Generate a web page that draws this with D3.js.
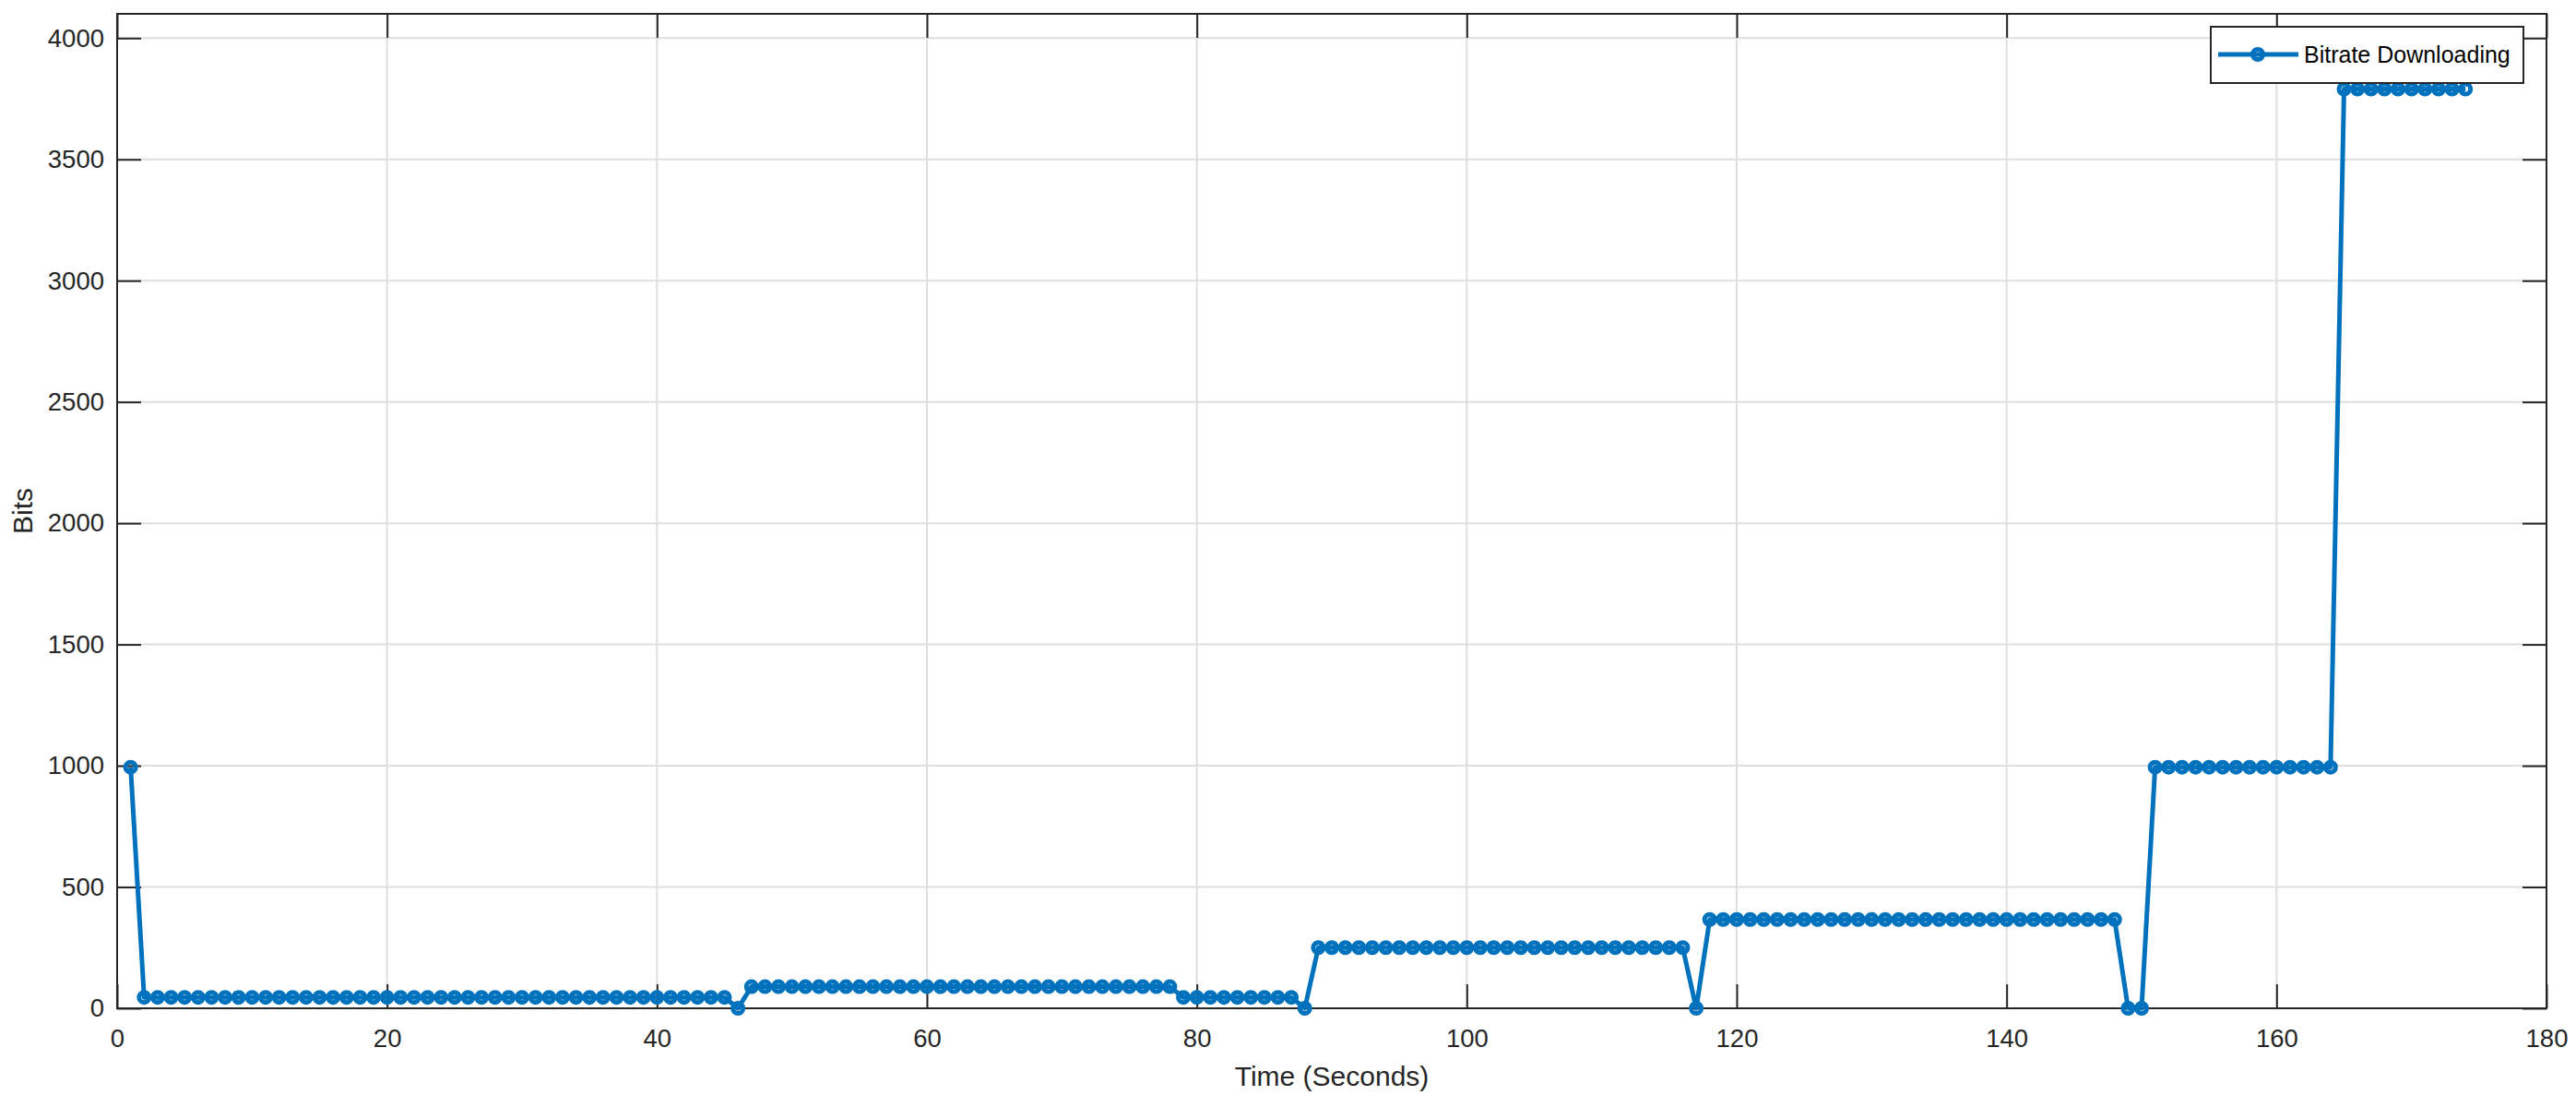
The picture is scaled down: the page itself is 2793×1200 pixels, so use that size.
<!DOCTYPE html>
<html>
<head>
<meta charset="utf-8">
<script src="https://cdn.jsdelivr.net/npm/d3@7"></script>
<style>
  html, body { margin: 0; padding: 0; background: #ffffff; }
  svg { display: block; }
</style>
</head>
<body>
<svg id="chart" width="2793" height="1200"></svg>
<script>
// ---- data ----
const seriesName = "Bitrate Downloading";
const xLabel = "Time (Seconds)";
const yLabel = "Bits";

const timeSeconds = [
  1, 2, 3, 4, 5, 6, 7, 8, 9, 10,
  11, 12, 13, 14, 15, 16, 17, 18, 19, 20,
  21, 22, 23, 24, 25, 26, 27, 28, 29, 30,
  31, 32, 33, 34, 35, 36, 37, 38, 39, 40,
  41, 42, 43, 44, 45, 46, 47, 48, 49, 50,
  51, 52, 53, 54, 55, 56, 57, 58, 59, 60,
  61, 62, 63, 64, 65, 66, 67, 68, 69, 70,
  71, 72, 73, 74, 75, 76, 77, 78, 79, 80,
  81, 82, 83, 84, 85, 86, 87, 88, 89, 90,
  91, 92, 93, 94, 95, 96, 97, 98, 99, 100,
  101, 102, 103, 104, 105, 106, 107, 108, 109, 110,
  111, 112, 113, 114, 115, 116, 117, 118, 119, 120,
  121, 122, 123, 124, 125, 126, 127, 128, 129, 130,
  131, 132, 133, 134, 135, 136, 137, 138, 139, 140,
  141, 142, 143, 144, 145, 146, 147, 148, 149, 150,
  151, 152, 153, 154, 155, 156, 157, 158, 159, 160,
  161, 162, 163, 164, 165, 166, 167, 168, 169, 170,
  171, 172, 173, 174
];

const bitrateBits = [
  994,
  45, 45, 45, 45, 45, 45, 45, 45, 45, 45, 45,
  45, 45, 45, 45, 45, 45, 45, 45, 45, 45, 45,
  45, 45, 45, 45, 45, 45, 45, 45, 45, 45, 45,
  45, 45, 45, 45, 45, 45, 45, 45, 45, 45, 45,
  0,
  89, 89, 89, 89, 89, 89, 89, 89,
  89, 89, 89, 89, 89, 89, 89, 89,
  89, 89, 89, 89, 89, 89, 89, 89,
  89, 89, 89, 89, 89, 89, 89, 89,
  45, 45, 45, 45, 45, 45, 45, 45, 45,
  0,
  250, 250, 250, 250, 250, 250, 250,
  250, 250, 250, 250, 250, 250, 250,
  250, 250, 250, 250, 250, 250, 250,
  250, 250, 250, 250, 250, 250, 250,
  0,
  366, 366, 366, 366, 366, 366, 366, 366, 366, 366,
  366, 366, 366, 366, 366, 366, 366, 366, 366, 366,
  366, 366, 366, 366, 366, 366, 366, 366, 366, 366,
  366,
  0, 0,
  994, 994, 994, 994, 994, 994, 994,
  994, 994, 994, 994, 994, 994, 994,
  3790, 3790, 3790, 3790, 3790, 3790, 3790, 3790, 3790, 3790
];

const xDomain = [0, 180];
const yDomain = [0, 4100];
const xTickValues = [0, 20, 40, 60, 80, 100, 120, 140, 160, 180];
const yTickValues = [0, 500, 1000, 1500, 2000, 2500, 3000, 3500, 4000];

(function () {
// ---- layout ----
const svg = d3.select("#chart");
const plotL = 127, plotR = 2761, plotT = 15, plotB = 1093;
const fontFamily = "'Liberation Sans', Arial, Helvetica, sans-serif";
const textColor = "#262626";
const lineColor = "#0072BD";
const tickLen = 26;

const x = d3.scaleLinear().domain(xDomain).range([plotL, plotR]);
const y = d3.scaleLinear().domain(yDomain).range([plotB, plotT]);

// grid
const grid = svg.append("g");
grid.selectAll("line.vg").data(xTickValues).join("line")
  .attr("class", "vg")
  .attr("x1", d => x(d)).attr("x2", d => x(d))
  .attr("y1", plotT).attr("y2", plotB)
  .attr("stroke", "#dfdfdf").attr("stroke-width", 2);
grid.selectAll("line.hg").data(yTickValues).join("line")
  .attr("class", "hg")
  .attr("x1", plotL).attr("x2", plotR)
  .attr("y1", d => y(d)).attr("y2", d => y(d))
  .attr("stroke", "#dfdfdf").attr("stroke-width", 2);

// axes
function styleAxis(g, hideLabels) {
  g.select(".domain").remove();
  g.selectAll(".tick line").attr("stroke", textColor).attr("stroke-width", 2);
  g.selectAll(".tick text")
    .attr("fill", textColor)
    .style("font-family", fontFamily)
    .style("font-size", "27.5px");
  if (hideLabels) g.selectAll(".tick text").remove();
}

svg.append("g").attr("transform", `translate(0,${plotB})`)
  .call(d3.axisBottom(x).tickValues(xTickValues).tickSize(-tickLen).tickPadding(22).tickFormat(d3.format("d")))
  .call(g => styleAxis(g, false));
svg.append("g").attr("transform", `translate(0,${plotT})`)
  .call(d3.axisTop(x).tickValues(xTickValues).tickSize(-tickLen))
  .call(g => styleAxis(g, true));
svg.append("g").attr("transform", `translate(${plotL},0)`)
  .call(d3.axisLeft(y).tickValues(yTickValues).tickSize(-tickLen).tickPadding(14).tickFormat(d3.format("d")))
  .call(g => styleAxis(g, false));
svg.append("g").attr("transform", `translate(${plotR},0)`)
  .call(d3.axisRight(y).tickValues(yTickValues).tickSize(-tickLen))
  .call(g => styleAxis(g, true));

// frame
svg.append("rect")
  .attr("x", plotL).attr("y", plotT)
  .attr("width", plotR - plotL).attr("height", plotB - plotT)
  .attr("fill", "none").attr("stroke", textColor).attr("stroke-width", 2);

// axis labels
svg.append("text")
  .attr("x", (plotL + plotR) / 2).attr("y", 1177)
  .attr("text-anchor", "middle")
  .attr("fill", textColor)
  .style("font-family", fontFamily).style("font-size", "30px")
  .text(xLabel);
svg.append("text")
  .attr("transform", `translate(35,${(plotT + plotB) / 2}) rotate(-90)`)
  .attr("text-anchor", "middle")
  .attr("fill", textColor)
  .style("font-family", fontFamily).style("font-size", "30px")
  .text(yLabel);

// data
const points = timeSeconds.map((t, i) => ({ t, v: bitrateBits[i] }));
const line = d3.line().x(d => x(d.t)).y(d => y(d.v));
svg.append("path").datum(points)
  .attr("d", line)
  .attr("fill", "none")
  .attr("stroke", lineColor)
  .attr("stroke-width", 5)
  .attr("stroke-linejoin", "round");
svg.append("g").selectAll("circle").data(points).join("circle")
  .attr("cx", d => x(d.t)).attr("cy", d => y(d.v))
  .attr("r", 5.5)
  .attr("fill", "none")
  .attr("stroke", lineColor)
  .attr("stroke-width", 5);

// legend
const lg = svg.append("g");
lg.append("rect")
  .attr("x", 2397).attr("y", 29).attr("width", 339).attr("height", 61)
  .attr("fill", "#ffffff").attr("stroke", textColor).attr("stroke-width", 2);
lg.append("line")
  .attr("x1", 2405).attr("x2", 2492).attr("y1", 59).attr("y2", 59)
  .attr("stroke", lineColor).attr("stroke-width", 5);
lg.append("circle")
  .attr("cx", 2448).attr("cy", 59).attr("r", 5.5)
  .attr("fill", "none").attr("stroke", lineColor).attr("stroke-width", 5);
lg.append("text")
  .attr("x", 2498).attr("y", 59)
  .attr("dominant-baseline", "central")
  .attr("fill", "#000000")
  .style("font-family", fontFamily).style("font-size", "25px")
  .text(seriesName);
})();
</script>
</body>
</html>
